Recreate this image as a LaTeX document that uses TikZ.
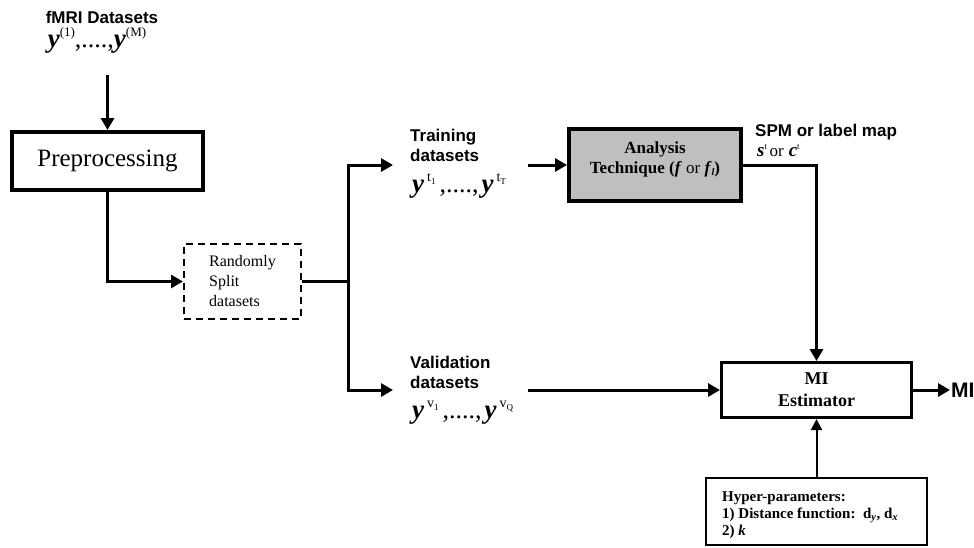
\documentclass[tikz,border=0pt]{standalone}
\usepackage{fontspec}
\setmainfont{Liberation Serif}
\setsansfont{Liberation Sans}
\usetikzlibrary{arrows.meta}
\newcommand{\myfs}[1]{\fontsize{#1}{#1}\selectfont}
\newcommand{\yb}{{\myfs{27}\bfseries\itshape y}}
\newcommand{\ysup}[1]{\raisebox{11pt}{\myfs{13}#1}}
\newcommand{\ysupsub}[2]{\raisebox{11pt}{\myfs{14}#1\raisebox{-3pt}{\myfs{9}#2}}}
\newcommand{\ydots}{{\myfs{26},....,}}
\begin{document}
\begin{tikzpicture}[x=1pt,y=-1pt,
  arr/.style={line width=3pt,-{Triangle[length=12pt,width=13pt]}},
  conn/.style={line width=3pt},
  box/.style={draw,line width=3pt,inner sep=0pt},
  lbl/.style={font=\sffamily\bfseries\fontsize{17}{20}\selectfont, align=left, inner sep=0pt},
  form/.style={inner sep=0pt}]
\useasboundingbox (0,0) rectangle (974,547);

% top input
\node[lbl,align=center] (title) at (102,17) {fMRI Datasets};
\node[form] (titlef) at (97,40) {\yb\ysup{(1)}\ydots\yb\ysup{(M)}};
\coordinate (din) at (107.5,75);

\node[box,line width=4pt,minimum width=191pt,minimum height=58pt,font=\myfs{25}] (prep) at (107.5,161) {Preprocessing};
\draw[arr] (din) -- (prep.north);

\node[draw,dashed,dash pattern=on 7pt off 5pt,line width=2pt,minimum width=117pt,minimum height=75pt,
      align=left,font=\fontsize{16}{20}\selectfont] (split) at (242.5,281.5) {Randomly\\Split\\datasets};
\draw[arr] (prep.south) |- (split.west);

\coordinate (jn) at (348,281.5);
\coordinate (tin) at (393,165);
\coordinate (vin) at (393,390);
\draw[conn] (split.east) -- (jn);
\draw[arr] (jn) |- (tin);
\draw[arr] (jn) |- (vin);

% training
\node[lbl,anchor=west] (trainl) at (410,145) {Training\\datasets};
\node[form,anchor=west] (trainf) at (412,186) {\yb\hspace{3pt}\ysupsub{t}{1}\hspace{4pt}\ydots\hspace{3pt}\yb\hspace{3pt}\ysupsub{t}{T}};
\coordinate (tout) at (528,165);

\node[box,line width=4pt,fill=black!25,minimum width=172pt,minimum height=72pt,
      font=\bfseries\fontsize{17}{20}\selectfont,align=center] (ana) at (655,165)
  {Analysis\\Technique (\textit{f} {\mdseries or} \textit{f}\raisebox{-2pt}{\myfs{10}\textit{l}})\\[-6pt]};
\draw[arr] (tout) -- (ana.west);

\node[lbl,anchor=west] (spm) at (755,132) {SPM or label map};
\node[form,anchor=west] (spmf) at (757,151) {{\myfs{19}\bfseries\itshape s}\raisebox{7pt}{\myfs{9}t}\ {\myfs{17}or}\ \ {\myfs{19}\bfseries\itshape c}\raisebox{7pt}{\myfs{9}t}};

% validation
\node[lbl,anchor=west] (vall) at (410,372) {Validation\\datasets};
\node[form,anchor=west] (valf) at (412,413) {\yb\hspace{3pt}\ysupsub{v}{1}\hspace{4pt}\ydots\hspace{3pt}\yb\hspace{3pt}\ysupsub{v}{Q}};
\coordinate (vout) at (528,390);

% MI estimator
\node[box,minimum width=190pt,minimum height=55pt,align=center,
      font=\bfseries\fontsize{18}{22}\selectfont] (mi) at (816.5,390) {MI\\Estimator};
\draw[arr] (ana.east) -| (mi.north);
\draw[arr] (vout) -- (mi.west);

\node[font=\sffamily\bfseries\myfs{21},anchor=west,inner sep=1pt] (miout) at (950,390) {MI};
\draw[arr] (mi.east) -- (miout.west);

% hyper-parameters
\node[draw,line width=2pt,minimum width=221pt,minimum height=67pt] (hyp) at (816.5,511.5) {};
\node[anchor=west,align=left,font=\bfseries\fontsize{15}{17}\selectfont,inner sep=0pt] (hypt) at (722,515)
  {Hyper-parameters:\\1) Distance function:\ \ d\textsubscript{\textit{y}}, d\textsubscript{\textit{x}}\\2) \textit{k}};
\draw[line width=2pt,-{Triangle[length=11pt,width=11pt]}] (hyp.north) -- (mi.south);
\end{tikzpicture}
\end{document}
